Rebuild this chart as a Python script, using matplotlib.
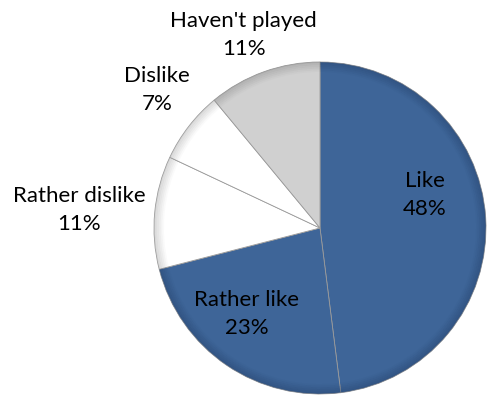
import numpy as np
import matplotlib.pyplot as plt
from matplotlib.patches import Wedge

labels = ["Like", "Rather like", "Rather dislike", "Dislike", "Haven't played"]
shares = [48, 23, 11, 7, 11]
colors = ["#3e6598", "#3e6598", "#ffffff", "#ffffff", "#d0d0d0"]
rim_colors = ["#23406a", "#23406a", "#a8a8a8", "#a8a8a8", "#8c8c8c"]

# label centres in axes data units (pie radius = 1)
label_pos = [(0.63, 0.20), (-0.44, -0.52), (-1.45, 0.11), (-0.98, 0.83), (-0.46, 1.16)]

plt.rcParams["font.family"] = ["Lato", "DejaVu Sans"]

fig = plt.figure(figsize=(4.88, 3.96), dpi=100)
ax = fig.add_axes([154 / 488, 2 / 396, 332 / 488, 332 / 396])

wedges, _ = ax.pie(shares, colors=colors, startangle=90, counterclock=False,
                   radius=1, wedgeprops=dict(edgecolor="#9a9a9a", linewidth=0.6))

# darker rim towards the outside of each slice for a bevelled look
for w, rc in zip(wedges, rim_colors):
    for k, a in enumerate(np.linspace(0.05, 0.45, 6)):
        r = 1 - 0.06 + k * 0.01
        ax.add_patch(Wedge((0, 0), r + 0.01, w.theta1, w.theta2, width=0.01,
                           facecolor=rc, edgecolor="none", alpha=a))

for lab, val, (x, y) in zip(labels, shares, label_pos):
    ax.text(x, y, f"{lab}\n{val}%", ha="center", va="center", fontsize=16,
            linespacing=1.5, color="black", clip_on=False)

ax.set_aspect("auto")
ax.set_xlim(-1, 1)
ax.set_ylim(-1, 1)
ax.axis("off")

fig.savefig("out.png", dpi=100)
